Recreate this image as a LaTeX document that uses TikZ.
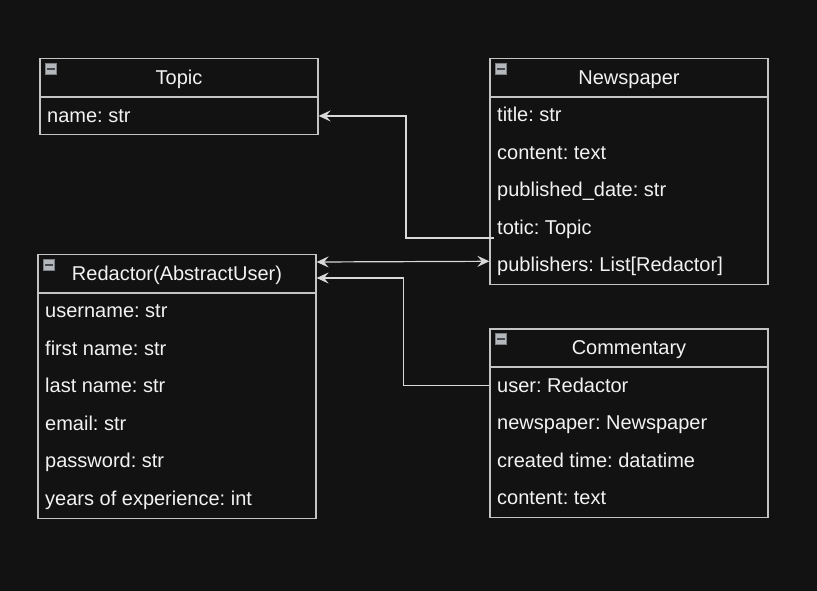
\documentclass[tikz,border=0pt]{standalone}
\usepackage{fontspec}
\setmainfont{Liberation Sans}
\usetikzlibrary{arrows.meta,calc}
\definecolor{bgc}{HTML}{121212}
\definecolor{boxc}{HTML}{C4C4C4}
\definecolor{txtc}{HTML}{F2F2F2}
\definecolor{linec}{HTML}{D8D8D8}
\definecolor{iconf}{HTML}{B4B8BC}
\definecolor{icond}{HTML}{7C8084}
\definecolor{iconb}{HTML}{44484C}
\def\ft{\fontsize{20}{23}\selectfont\frenchspacing}
\tikzset{
  hdr/.style={draw=boxc, line width=1.2pt, fill=bgc, minimum width=278pt, minimum height=37.5pt,
    inner sep=0pt, text=txtc, font=\ft, text height=14.3pt, text depth=0pt},
  bodyb/.style={draw=boxc, line width=1.2pt, fill=bgc, minimum width=278pt, inner sep=0pt, anchor=north},
  fld/.style={anchor=west, inner sep=0pt, text=txtc, font=\ft, text height=14.3pt, text depth=0pt},
  conn/.style={draw=linec, line width=1.2pt},
  tipb/.style={-{Stealth[length=12pt,width=11pt,inset=4.5pt]}},
  tipbb/.style={{Stealth[length=12pt,width=11pt,inset=4.5pt]}-{Stealth[length=12pt,width=11pt,inset=4.5pt]}}
}
\newcommand\clsicon[1]{%
  \draw[fill=iconf, draw=icond, line width=0.6pt] ($(#1.north west)+(6,5)$) rectangle ++(11,11);
  \fill[iconb] ($(#1.north west)+(7.5,9.6)$) rectangle ++(8,2.4);
}
\begin{document}
\begin{tikzpicture}[x=1pt,y=-1pt]
\fill[bgc] (0,0) rectangle (817,591);
\useasboundingbox (0,0) rectangle (817,591);

% Topic
\node[hdr] (th) at (179,77.5) {Topic};
\node[bodyb, minimum height=37pt] (tb) at (th.south) {};
\node[fld] (t1) at (47,115) {name: str};
\clsicon{th}

% Newspaper
\node[hdr] (nh) at (629,77.5) {Newspaper};
\node[bodyb, minimum height=187pt] (nb) at (nh.south) {};
\node[fld] (n1) at (497,114.7) {title: str};
\node[fld] (n2) at (497,152.1) {content: text};
\node[fld] (n3) at (497,189.5) {published\_date: str};
\node[fld] (n4) at (497,226.9) {totic: Topic};
\node[fld] (n5) at (497,264.3) {publishers: List[Redactor]};
\clsicon{nh}

% Redactor
\node[hdr] (rh) at (177,273.5) {Redactor(AbstractUser)};
\node[bodyb, minimum height=225pt] (rb) at (rh.south) {};
\node[fld] (r1) at (45,310.75) {username: str};
\node[fld] (r2) at (45,348.25) {first name: str};
\node[fld] (r3) at (45,385.75) {last name: str};
\node[fld] (r4) at (45,423.25) {email: str};
\node[fld] (r5) at (45,460.75) {password: str};
\node[fld] (r6) at (45,498.25) {years of experience: int};
\clsicon{rh}

% Commentary
\node[hdr] (ch) at (629,347.75) {Commentary};
\node[bodyb, minimum height=150pt] (cb) at (ch.south) {};
\node[fld] (c1) at (497,385.25) {user: Redactor};
\node[fld] (c2) at (497,422.75) {newspaper: Newspaper};
\node[fld] (c3) at (497,460.25) {created time: datatime};
\node[fld] (c4) at (497,497.75) {content: text};
\clsicon{ch}

% connectors
\coordinate (ns) at ($(n4.west)+(-3,11)$);
\draw[conn, tipb] (ns) -- ++(-88,0) |- (tb.east);
\draw[conn, tipbb] ([yshift=11.5pt]rh.east) -- ([yshift=3pt]n5.west -| nb.west);
\draw[conn, tipb] (c1.west -| cb.west) -- ++(-86,0) |- ([yshift=-4.5pt]rh.east);
\end{tikzpicture}
\end{document}
